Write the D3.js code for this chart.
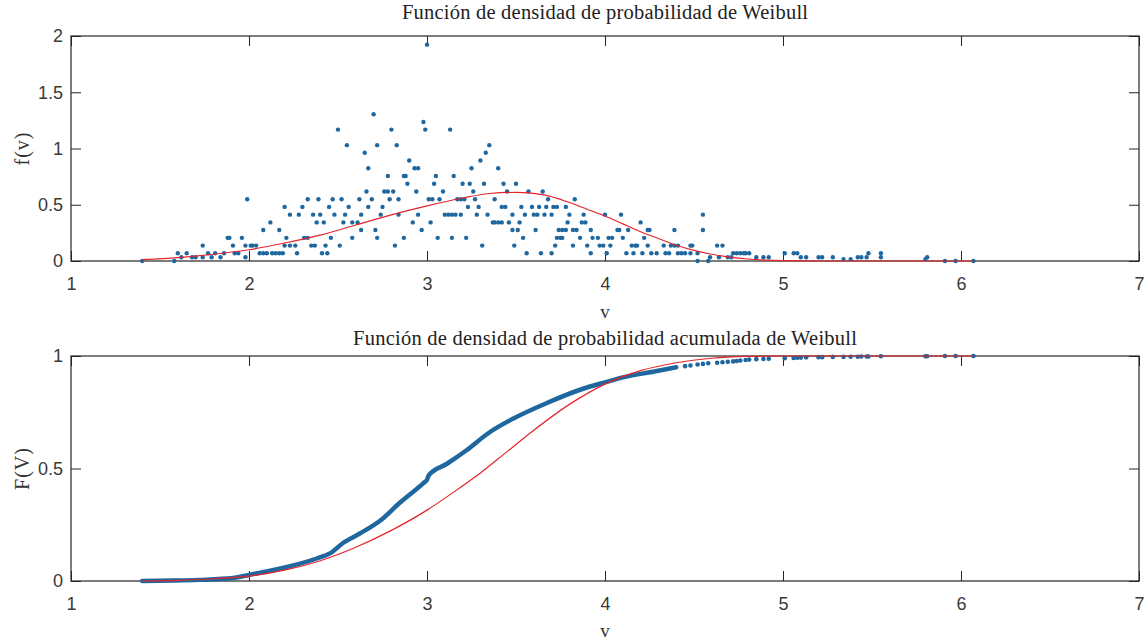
<!DOCTYPE html>
<html>
<head>
<meta charset="utf-8">
<script src="https://cdn.jsdelivr.net/npm/d3@7"></script>
<style>
  body { margin: 0; background: #fff; }
  svg { display: block; }
</style>
</head>
<body>
<svg id="chart" width="1148" height="642"></svg>
<script>
// ---- axis ticks ----
const xTicks = [1, 2, 3, 4, 5, 6, 7];
const pdfTicks = [0, 0.5, 1, 1.5, 2];
const cdfTicks = [0, 0.5, 1];

// ---- empirical density: one density level per row, with the wind speeds found at it ----
const pdfLevels = [1.923, 1.305, 1.236, 1.168, 1.030, 0.962, 0.893, 0.824, 0.756, 0.687,
                   0.618, 0.549, 0.481, 0.412, 0.343, 0.275, 0.206, 0.137, 0.069, 0.034, 0.017, 0.000];
const pdfRowV = [
  [3.00],
  [2.70],
  [2.98],
  [2.50, 2.80, 2.99, 3.13],
  [2.55, 2.72, 2.83, 3.35],
  [2.65, 3.33],
  [2.90, 3.30],
  [2.67, 2.93, 2.95, 3.25, 3.40],
  [2.78, 2.87, 2.88, 3.05, 3.15],
  [2.89, 3.04, 3.20, 3.24, 3.32, 3.43, 3.50],
  [2.66, 2.76, 2.78, 2.81, 2.94, 3.09, 3.26, 3.45, 3.57, 3.65],
  [1.99, 2.33, 2.39, 2.47, 2.52, 2.62, 2.69, 2.79, 2.84, 3.01, 3.03, 3.07, 3.17, 3.19, 3.21, 3.27, 3.38, 3.68, 3.83],
  [2.20, 2.30, 2.45, 2.56, 2.67, 2.75, 3.23, 3.29, 3.42, 3.44, 3.53, 3.59, 3.63, 3.67, 3.71, 3.73, 3.78],
  [2.23, 2.28, 2.36, 2.40, 2.48, 2.54, 2.63, 2.74, 2.84, 2.95, 3.10, 3.12, 3.14, 3.16, 3.19, 3.28, 3.34, 3.48,
   3.55, 3.60, 3.62, 3.66, 3.70, 3.80, 3.88, 4.00, 4.09, 4.55],
  [2.12, 2.38, 2.42, 2.53, 2.58, 2.61, 2.92, 3.02, 3.37, 3.38, 3.40, 3.42, 3.46, 3.52, 3.79, 3.87, 3.89, 4.20],
  [2.08, 2.17, 2.63, 2.71, 2.97, 3.48, 3.51, 3.61, 3.74, 3.76, 3.78, 3.82, 3.84, 3.92, 4.07, 4.08, 4.13, 4.24,
   4.25, 4.39, 4.55],
  [1.88, 1.89, 1.96, 2.21, 2.31, 2.33, 2.46, 2.58, 2.72, 2.87, 3.06, 3.14, 3.22, 3.54, 3.73, 3.75, 3.76, 3.86,
   3.93, 3.96, 4.02, 4.04, 4.10, 4.22],
  [1.74, 1.91, 1.98, 2.01, 2.02, 2.04, 2.20, 2.23, 2.26, 2.35, 2.37, 2.43, 2.51, 2.82, 3.31, 3.49, 3.72, 3.82,
   3.90, 3.97, 3.99, 4.03, 4.15, 4.17, 4.18, 4.24, 4.33, 4.37, 4.39, 4.41, 4.48, 4.49, 4.63, 4.66],
  [1.60, 1.65, 1.77, 1.81, 1.86, 1.92, 1.94, 2.06, 2.08, 2.10, 2.13, 2.15, 2.17, 2.19, 2.27, 2.41, 2.44, 3.56,
   3.64, 3.70, 3.92, 4.01, 4.12, 4.16, 4.21, 4.26, 4.29, 4.34, 4.36, 4.41, 4.43, 4.45, 4.48, 4.52, 4.72, 4.74,
   4.76, 4.78, 4.79, 4.81, 5.01, 5.06, 5.08, 5.48, 5.55],
  [1.62, 1.68, 1.70, 1.74, 1.79, 1.84, 1.98, 4.59, 4.64, 4.69, 4.71, 4.85, 4.89, 4.92, 5.10, 5.13, 5.20, 5.22,
   5.28, 5.42, 5.44, 5.47, 5.55, 5.81],
  [5.34, 5.38, 5.80],
  [1.40, 1.58, 4.52, 4.58, 5.91, 5.97, 6.07]
];

// ---- fitted Weibull density ----
const fitPdfV = [1.40, 1.60, 1.80, 2.00, 2.20, 2.40, 2.60, 2.80, 3.00, 3.20, 3.35, 3.50, 3.65, 3.80,
                 3.90, 4.00, 4.10, 4.20, 4.30, 4.40, 4.50, 4.60, 4.70, 4.80, 4.90, 5.00, 5.20, 6.07];
const fitPdfF = [0.012, 0.030, 0.060, 0.100, 0.160, 0.230, 0.320, 0.410, 0.490, 0.560, 0.600, 0.610, 0.590, 0.520,
                 0.460, 0.400, 0.330, 0.260, 0.200, 0.140, 0.095, 0.060, 0.035, 0.018, 0.008, 0.003, 0.000, 0.000];

// ---- empirical cumulative distribution ----
const cdfV = [1.40, 1.58, 1.72, 1.91, 2.00, 2.19, 2.38, 2.46, 2.53, 2.62, 2.74, 2.85, 2.98, 3.00, 3.01,
              3.11, 3.22, 3.35, 3.48, 3.67, 3.86, 4.01, 4.10, 4.27, 4.40];
const cdfF = [0.000, 0.002, 0.005, 0.013, 0.027, 0.058, 0.100, 0.125, 0.170, 0.210, 0.270, 0.350, 0.435, 0.450, 0.470,
              0.520, 0.580, 0.660, 0.720, 0.790, 0.850, 0.885, 0.905, 0.930, 0.950];
const cdfTailV = [4.45, 4.48, 4.52, 4.55, 4.58, 4.63, 4.66, 4.69, 4.72, 4.74, 4.76, 4.79, 4.81, 4.85, 4.89, 4.92,
                  5.01, 5.06, 5.08, 5.10, 5.13, 5.20, 5.22, 5.28, 5.34, 5.38, 5.42, 5.44, 5.47, 5.48, 5.55,
                  5.80, 5.81, 5.91, 5.97, 6.07];
const cdfTailF = [0.955, 0.958, 0.962, 0.965, 0.968, 0.970, 0.972, 0.974, 0.976, 0.978, 0.980, 0.982, 0.984, 0.986, 0.987, 0.988,
                  0.990, 0.991, 0.992, 0.993, 0.994, 0.995, 0.995, 0.996, 0.996, 0.997, 0.997, 0.998, 0.998, 0.998, 0.999,
                  0.999, 0.999, 1.000, 1.000, 1.000];

// ---- fitted Weibull cumulative distribution ----
const fitCdfV = [1.40, 1.60, 1.80, 2.00, 2.20, 2.40, 2.60, 2.80, 3.00, 3.15, 3.30, 3.45, 3.60, 3.80, 4.00,
                 4.20, 4.40, 4.60, 4.80, 5.00, 6.07];
const fitCdfF = [0.000, 0.003, 0.010, 0.022, 0.048, 0.090, 0.150, 0.225, 0.315, 0.395, 0.480, 0.575, 0.670, 0.785, 0.875,
                 0.935, 0.970, 0.990, 0.998, 1.000, 1.000];

// ---- styling ----
const axisColor = "#262626";
const dotColor = "#1e679f";
const fitColor = "#e3252b";
const sansFont = "'Liberation Sans', Arial, sans-serif";
const serifFont = "'Liberation Serif', 'Times New Roman', serif";

const svg = d3.select("#chart");
const x = d3.scaleLinear().domain([1, 7]).range([71, 1139]);

function frame(y0, y1, yDomain, yTicks, title, titleY, titleWidth, yLabel, xLabelY) {
  const y = d3.scaleLinear().domain(yDomain).range([y1, y0]);
  const g = svg.append("g");

  const styleAxis = sel => {
    sel.attr("font-family", sansFont).attr("font-size", 18);
    sel.selectAll(".domain").remove();
    sel.selectAll("line").attr("stroke", axisColor).attr("stroke-width", 1);
    sel.selectAll("text").attr("fill", "#3a3a3a");
  };

  g.append("g").attr("transform", `translate(0,${y1})`)
    .call(d3.axisBottom(x).tickValues(xTicks).tickSize(-10).tickPadding(16).tickFormat(d3.format("d")))
    .call(styleAxis);
  g.append("g").attr("transform", `translate(0,${y0})`)
    .call(d3.axisTop(x).tickValues(xTicks).tickSize(-10).tickFormat(""))
    .call(styleAxis);
  g.append("g").attr("transform", "translate(71,0)")
    .call(d3.axisLeft(y).tickValues(yTicks).tickSize(-10).tickPadding(8).tickFormat(d => String(d)))
    .call(styleAxis);
  g.append("g").attr("transform", "translate(1139,0)")
    .call(d3.axisRight(y).tickValues(yTicks).tickSize(-10).tickFormat(""))
    .call(styleAxis);

  g.append("rect")
    .attr("x", x(1)).attr("y", y0)
    .attr("width", x(7) - x(1)).attr("height", y1 - y0)
    .attr("fill", "none").attr("stroke", axisColor).attr("stroke-width", 1.2);

  g.append("text")
    .attr("x", (x(1) + x(7)) / 2).attr("y", titleY)
    .attr("text-anchor", "middle")
    .attr("font-family", serifFont).attr("font-size", 20.5).attr("fill", "#222")
    .attr("textLength", titleWidth).attr("lengthAdjust", "spacing")
    .text(title);

  g.append("text")
    .attr("transform", `translate(22,${(y0 + y1) / 2}) rotate(-90)`)
    .attr("text-anchor", "middle").attr("dominant-baseline", "central")
    .attr("font-family", serifFont).attr("font-size", 20).attr("fill", "#333")
    .attr("letter-spacing", 1)
    .text(yLabel);

  g.append("text")
    .attr("x", (x(1) + x(7)) / 2).attr("y", xLabelY)
    .attr("text-anchor", "middle")
    .attr("font-family", serifFont).attr("font-size", 19).attr("fill", "#333")
    .text("v");

  return { g, y };
}

// ---- density panel ----
const densityPanel = frame(36, 261, [0, 2], pdfTicks,
  "Función de densidad de probabilidad de Weibull", 19, 406, "f(v)", 318);

const pdfPts = pdfLevels.flatMap((f, i) => pdfRowV[i].map(v => [v, f]));
densityPanel.g.append("g").selectAll("circle").data(pdfPts).join("circle")
  .attr("cx", d => x(d[0])).attr("cy", d => densityPanel.y(d[1]))
  .attr("r", 2.2).attr("fill", dotColor);

densityPanel.g.append("path")
  .datum(fitPdfV.map((v, i) => [v, fitPdfF[i]]))
  .attr("fill", "none").attr("stroke", fitColor).attr("stroke-width", 1.2)
  .attr("d", d3.line().x(d => x(d[0])).y(d => densityPanel.y(d[1])).curve(d3.curveMonotoneX));

// ---- cumulative panel ----
const cumulativePanel = frame(356, 581, [0, 1], cdfTicks,
  "Función de densidad de probabilidad acumulada de Weibull", 345, 504, "F(V)", 637);

cumulativePanel.g.append("path")
  .datum(cdfV.map((v, i) => [v, cdfF[i]]))
  .attr("fill", "none").attr("stroke", dotColor).attr("stroke-width", 4.5)
  .attr("stroke-linecap", "round").attr("stroke-linejoin", "round")
  .attr("d", d3.line().x(d => x(d[0])).y(d => cumulativePanel.y(d[1])).curve(d3.curveMonotoneX));

cumulativePanel.g.append("g").selectAll("circle")
  .data(cdfTailV.map((v, i) => [v, cdfTailF[i]])).join("circle")
  .attr("cx", d => x(d[0])).attr("cy", d => cumulativePanel.y(d[1]))
  .attr("r", 2.3).attr("fill", dotColor);

cumulativePanel.g.append("path")
  .datum(fitCdfV.map((v, i) => [v, fitCdfF[i]]))
  .attr("fill", "none").attr("stroke", fitColor).attr("stroke-width", 1.2)
  .attr("d", d3.line().x(d => x(d[0])).y(d => cumulativePanel.y(d[1])).curve(d3.curveMonotoneX));
</script>
</body>
</html>
